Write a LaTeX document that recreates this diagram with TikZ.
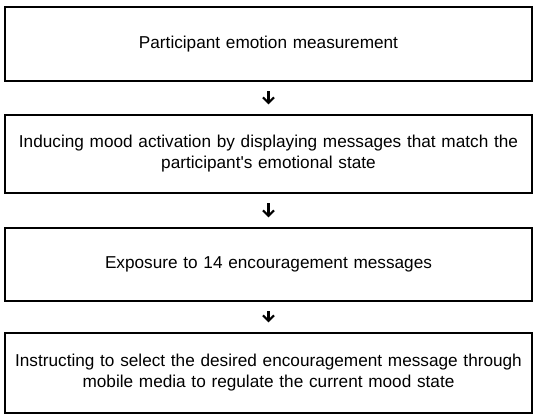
\documentclass[tikz,border=0pt]{standalone}
\usepackage{fontspec}
\setmainfont{Liberation Sans}
\usetikzlibrary{arrows.meta,positioning}

\begin{document}
\begin{tikzpicture}
                [x=1pt,y=-1pt,
                stepbox/.style={rectangle,draw,line width=1.1pt,minimum width=527pt,text width=520pt,align=center,font=\fontsize{17.2}{21}\selectfont},
                edge/.style={-{Straight Barb[length=5.5pt,width=11pt,line width=2.2pt]},line width=2.4pt,shorten <=9.5pt,shorten >=10pt}
                ]
            \useasboundingbox (0,0) rectangle (538,419);
            \node[stepbox,minimum height=74pt] (1) at (268.5,44) {Participant emotion measurement};
            \node[stepbox,minimum height=78pt] (2) at (268.5,154) {Inducing mood activation by displaying messages that match the\\ participant\textquotesingle s emotional state};
            \node[stepbox,minimum height=73pt] (3) at (268.5,264.5) {Exposure to 14 encouragement messages};
            \node[stepbox,minimum height=80pt] (4) at (268.5,373) {Instructing to select the desired encouragement message through\\ mobile media to regulate the current mood state};
            \draw[edge] (1) -- (2);
            \draw[edge] (2) -- (3);
            \draw[edge] (3) -- (4);
            \end{tikzpicture}
\end{document}
